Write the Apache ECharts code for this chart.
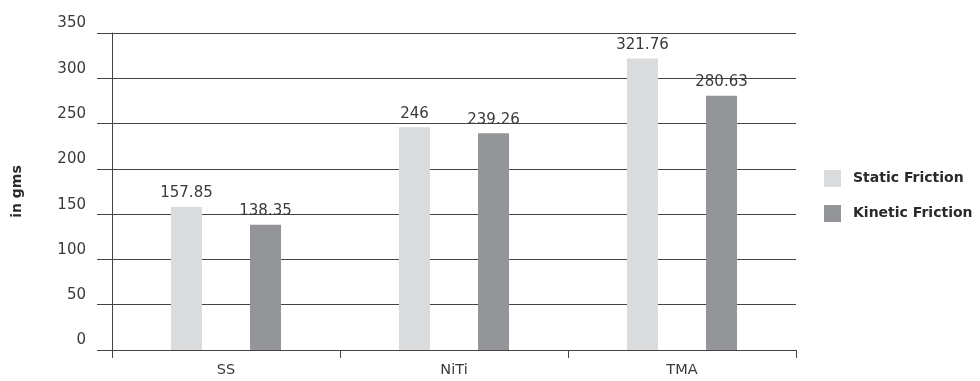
<!DOCTYPE html>
<html>
<head>
<meta charset="utf-8">
<script src="https://cdn.jsdelivr.net/npm/echarts@6/dist/echarts.min.js"></script>
<style>
  html, body { margin: 0; padding: 0; background: #fff; }
  #chart { width: 980px; height: 381px; }
</style>
</head>
<body>
<div id="chart"></div>
<script>
// Friction force per wire material (grams)
const categories = ['SS', 'NiTi', 'TMA'];
const staticFriction = [157.85, 246, 321.76];
const kineticFriction = [138.35, 239.26, 280.63];
const seriesNames = ['Static Friction', 'Kinetic Friction'];
const yAxisName = 'in gms';

const FONT = '"DejaVu Sans", sans-serif';
const chart = echarts.init(document.getElementById('chart'), null, { renderer: 'canvas' });

const labelStyle = {
  show: true,
  position: 'top',
  distance: 6,
  color: '#3a3a3a',
  fontSize: 15,
  fontFamily: FONT,
  formatter: p => String(p.value)
};

chart.setOption({
  animation: false,
  backgroundColor: '#fff',
  grid: { left: 112, right: 184, top: 33, bottom: 31 },
  legend: {
    orient: 'vertical',
    left: 819,
    top: 165,
    itemWidth: 17,
    itemHeight: 17,
    itemGap: 18,
    icon: 'rect',
    textStyle: {
      fontFamily: FONT, fontSize: 14, fontWeight: 'bold', color: '#2a2a2a',
      padding: [0, 0, 0, 7]
    },
    data: seriesNames
  },
  xAxis: {
    type: 'category',
    data: categories,
    axisLine: { lineStyle: { color: '#444', width: 1 } },
    axisTick: { show: true, length: 8, alignWithLabel: false, lineStyle: { color: '#444' } },
    axisLabel: { color: '#3a3a3a', fontSize: 14.5, fontFamily: FONT, margin: 13 }
  },
  yAxis: {
    type: 'value',
    min: 0,
    max: 350,
    interval: 50,
    name: yAxisName,
    nameLocation: 'middle',
    nameGap: 88,
    nameTextStyle: { fontFamily: FONT, fontSize: 14, fontWeight: 'bold', color: '#2a2a2a' },
    axisLine: { show: true, lineStyle: { color: '#444', width: 1 } },
    axisTick: { show: true, length: 15, lineStyle: { color: '#444' } },
    splitLine: { show: true, lineStyle: { color: '#444', width: 1 } },
    axisLabel: {
      color: '#3a3a3a', fontSize: 15, fontFamily: FONT, margin: 26,
      verticalAlign: 'bottom', padding: [0, 0, 2, 0]
    }
  },
  series: [
    {
      name: seriesNames[0],
      type: 'bar',
      data: staticFriction,
      barWidth: 31,
      barGap: '155%',
      itemStyle: { color: '#dadbdd' },
      label: labelStyle
    },
    {
      name: seriesNames[1],
      type: 'bar',
      data: kineticFriction,
      barWidth: 31,
      barGap: '155%',
      itemStyle: { color: '#939598' },
      label: labelStyle
    }
  ]
});
</script>
</body>
</html>
